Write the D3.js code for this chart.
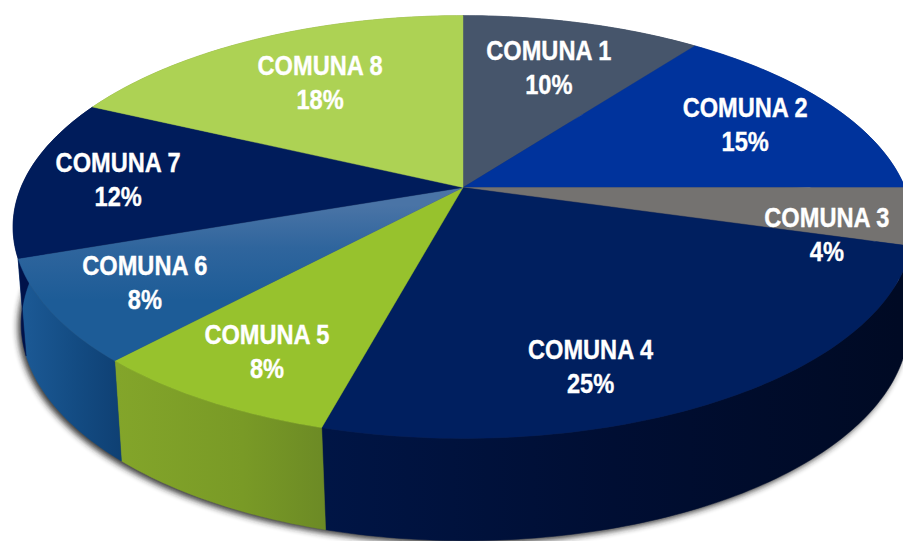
<!DOCTYPE html>
<html><head><meta charset="utf-8">
<script src="https://cdnjs.cloudflare.com/ajax/libs/d3/7.8.5/d3.min.js"></script>
<style>html,body{margin:0;padding:0;background:#fff;overflow:hidden}svg{display:block}</style>
</head><body><svg id="c" width="903" height="541"></svg>
<script>
(function () {
const categories = ["COMUNA 1","COMUNA 2","COMUNA 3","COMUNA 4","COMUNA 5","COMUNA 6","COMUNA 7","COMUNA 8"];
const values = [10.3,14.7,4.4,24.82,7.68,7.8,12.3,18];
const topColors = ["#46556b","#00339c","#747270","#001f5f","#97c22d","url(#top6)","#001c5b","#add254"];
const wallColors = ["#33405a","#002a80","#55534f","url(#wall4)","url(#wall5)","url(#wall6)","#00124a","#8aa83e"];
const labelDeg = [18.4,64.5,105.9,161.9,208.8,236.9,272.5,327.6];
const labelRad = [.69,.75,.82,.797,.80,.79,.786,.667];

const svg = d3.select("#c");
// perspective disc: unit circle -> screen
const K = .187;
const projector = (cx, cy, rx, ry) => (a, r = 1) => {
  const u = r * Math.sin(a), v = -r * Math.cos(a), w = 1 - K * v;
  return [cx + rx * u / w, cy + ry * v / w];
};
const upper = projector(463, 187.5, 442, 204);
const lower = projector(465, 283, 436, 209.5);

const defs = svg.append("defs");
function grad(id, x1, y1, x2, y2, stops) {
  const g = defs.append("linearGradient").attr("id", id).attr("gradientUnits", "userSpaceOnUse")
    .attr("x1", x1).attr("y1", y1).attr("x2", x2).attr("y2", y2);
  stops.forEach(s => g.append("stop").attr("offset", s[0]).attr("stop-color", s[1]));
}
grad("top6", 0, 205, 0, 300, [[0, "#4a74a6"], [.45, "#2f659d"], [1, "#1d5c97"]]);
grad("wall4", 326, 0, 900, 0, [[0, "#001545"], [.5, "#000e33"], [1, "#000a24"]]);
grad("wall5", 118, 0, 326, 0, [[0, "#83a52a"], [.6, "#799a26"], [1, "#6c8a25"]]);
grad("wall6", 20, 0, 125, 0, [[0, "#1c5a96"], [.55, "#134b82"], [1, "#0e3f72"]]);
defs.append("filter").attr("id", "blur").attr("x", "-10%").attr("y", "-10%").attr("width", "120%").attr("height", "120%")
  .append("feGaussianBlur").attr("stdDeviation", 3);

const pie = d3.pie().sort(null).value(d => d);
const arcs = pie(values);
const line = d3.line();
const STEP = Math.PI / 180;
const samples = (a0, a1) => {
  const n = Math.max(2, Math.ceil((a1 - a0) / STEP));
  return d3.range(n + 1).map(i => a0 + (a1 - a0) * i / n);
};

// shadow beneath the body
svg.append("path")
  .attr("d", line(samples(0, 2 * Math.PI).map(a => lower(a))) + "Z")
  .attr("fill", "#222").attr("opacity", .9).attr("filter", "url(#blur)")
  .attr("transform", "translate(-3,3)");

// side walls
svg.append("g").selectAll("path").data(arcs).join("path")
  .attr("d", d => {
    const s = samples(d.startAngle, d.endAngle);
    return line(s.map(a => upper(a)).concat(s.slice().reverse().map(a => lower(a)))) + "Z";
  })
  .attr("fill", (d, i) => wallColors[i])
  .attr("stroke", (d, i) => wallColors[i]).attr("stroke-width", .5);

// top faces
svg.append("g").selectAll("path").data(arcs).join("path")
  .attr("d", d => line([upper(0, 0)].concat(samples(d.startAngle, d.endAngle).map(a => upper(a)))) + "Z")
  .attr("fill", (d, i) => topColors[i])
  .attr("stroke", (d, i) => topColors[i]).attr("stroke-width", .4);

// labels
const lab = svg.append("g").selectAll("g").data(arcs).join("g")
  .attr("transform", (d, i) => {
    const p = upper(labelDeg[i] * Math.PI / 180, labelRad[i]);
    return `translate(${p[0]},${p[1]}) scale(.875,1)`;
  })
  .attr("font-family", "'Liberation Sans',Arial,sans-serif")
  .attr("font-weight", 700).attr("font-size", 27)
  .attr("fill", "#fff").attr("stroke", "#fff").attr("stroke-width", .35).attr("text-anchor", "middle");
lab.append("text").attr("y", -8.5).text((d, i) => categories[i]);
lab.append("text").attr("y", 25.5).text(d => d3.format(".0f")(d.data) + "%");
})();
</script></body></html>
